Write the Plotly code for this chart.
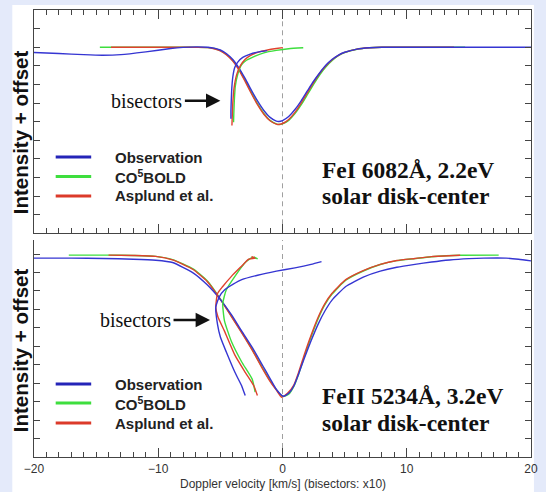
import plotly.graph_objects as go

# ---------------- data ----------------
# Upper panel: FeI 6082 A  (x = Doppler velocity km/s, y = normalised intensity)
fe1_obs_v = [-20, -18, -16, -14.5, -13, -11, -9, -8, -7, -6, -5.5, -5, -4.5, -4, -3.5, -3, -2.5, -2, -1.5, -1,
             -0.5, -0.3, 0, 0.5, 1, 1.5, 2, 2.5, 3, 3.5, 4, 4.5, 5, 6, 7, 8, 10, 14, 20]
fe1_obs_i = [0.972, 0.966, 0.960, 0.957, 0.960, 0.975, 0.993, 0.999, 1.002, 1.000, 0.995, 0.985, 0.965, 0.934, 0.888,
             0.831, 0.768, 0.710, 0.660, 0.623, 0.603, 0.601, 0.606, 0.628, 0.665, 0.712, 0.765, 0.817, 0.863, 0.904,
             0.935, 0.958, 0.973, 0.990, 0.997, 1.0, 1.0, 1.0, 1.0]
fe1_co5_v = [-14.7, -10, -8, -7, -6, -5.5, -5, -4.5, -4, -3.5, -3, -2.5, -2, -1.5, -1, -0.5, -0.25, 0, 0.5, 1,
             1.5, 2, 2.5, 3, 3.5, 4, 4.5, 5, 6, 7, 8, 10, 14.7]
fe1_co5_i = [1.0, 1.0, 1.0, 0.999, 0.998, 0.993, 0.982, 0.961, 0.929, 0.882, 0.821, 0.756, 0.695, 0.644, 0.607,
             0.588, 0.585, 0.588, 0.607, 0.643, 0.690, 0.745, 0.800, 0.852, 0.895, 0.929, 0.954, 0.971, 0.989,
             0.997, 1.0, 1.0, 1.0]
fe1_asp_v = [-13.8, -10, -8, -7, -6, -5.5, -5, -4.5, -4, -3.5, -3, -2.5, -2, -1.5, -1, -0.5, -0.4, 0, 0.5, 1,
             1.5, 2, 2.5, 3, 3.5, 4, 4.5, 5, 6, 7, 8, 10, 13.8]
fe1_asp_i = [1.0, 1.0, 1.0, 0.999, 0.998, 0.992, 0.980, 0.958, 0.925, 0.877, 0.815, 0.750, 0.690, 0.640, 0.605,
             0.587, 0.585, 0.590, 0.612, 0.650, 0.700, 0.755, 0.810, 0.860, 0.900, 0.933, 0.956, 0.972, 0.990,
             0.997, 1.0, 1.0, 1.0]
# bisectors (velocity x10)
fe1_bis_obs_v = [-4.15, -4.15, -4.12, -4.08, -4.0, -3.85, -3.6, -3.2, -2.6, -1.9, -1.24]
fe1_bis_obs_i = [0.615, 0.66, 0.72, 0.78, 0.84, 0.89, 0.92, 0.945, 0.963, 0.975, 0.982]
fe1_bis_co5_v = [-3.94, -3.92, -3.88, -3.8, -3.6, -3.3, -2.9, -2.3, -1.5, -0.5, 0.5, 1.67]
fe1_bis_co5_i = [0.597, 0.64, 0.71, 0.79, 0.855, 0.905, 0.93, 0.95, 0.97, 0.983, 0.992, 0.997]
fe1_bis_asp_v = [-4.07, -4.05, -4.0, -3.9, -3.7, -3.4, -3.0, -2.6, -2.0, -1.2, -0.5, 0.03]
fe1_bis_asp_i = [0.579, 0.62, 0.70, 0.78, 0.85, 0.90, 0.935, 0.955, 0.972, 0.985, 0.993, 0.998]

# Lower panel: FeII 5234 A
fe2_obs_v = [-20, -17, -14.4, -12, -10.2, -8.85, -7.2, -6.06, -4.95, -4.1, -3.28, -2.4, -1.6, -1.0, -0.49, 0.07,
             0.5, 0.91, 1.3, 1.74, 2.3, 2.86, 3.4, 3.97, 5.09, 6.5, 7.87, 9.2, 10.66, 12, 13.45, 15, 16.2, 18, 19, 20]
fe2_obs_i = [0.978, 0.978, 0.976, 0.972, 0.966, 0.954, 0.898, 0.833, 0.749, 0.67, 0.582, 0.49, 0.396, 0.325, 0.266,
             0.229, 0.245, 0.285, 0.35, 0.433, 0.53, 0.619, 0.69, 0.749, 0.824, 0.875, 0.907, 0.928, 0.944, 0.957,
             0.968, 0.975, 0.978, 0.978, 0.972, 0.963]
fe2_co5_v = [-17.2, -14, -12, -10.2, -8.85, -7.2, -6.06, -4.95, -4.1, -3.28, -2.4, -1.6, -1.0, -0.49, 0.0, 0.5,
             0.91, 1.3, 1.74, 2.3, 2.86, 3.4, 3.97, 5.09, 6.5, 7.87, 9.2, 10.66, 12, 14.3, 17.4]
fe2_co5_i = [0.994, 0.994, 0.992, 0.987, 0.97, 0.92, 0.855, 0.752, 0.662, 0.575, 0.478, 0.382, 0.314, 0.265, 0.228,
             0.240, 0.282, 0.35, 0.44, 0.55, 0.648, 0.724, 0.781, 0.858, 0.908, 0.943, 0.964, 0.975, 0.985, 0.993,
             0.994]
fe2_asp_v = [-14, -12, -10.2, -8.85, -7.2, -6.06, -4.95, -4.1, -3.28, -2.4, -1.6, -1.0, -0.49, -0.07, 0.4, 0.91,
             1.3, 1.74, 2.3, 2.86, 3.4, 3.97, 5.09, 6.5, 7.87, 9.2, 10.66, 12, 14.3]
fe2_asp_i = [0.994, 0.992, 0.987, 0.968, 0.916, 0.851, 0.749, 0.66, 0.573, 0.475, 0.378, 0.31, 0.262, 0.224, 0.245,
             0.29, 0.36, 0.452, 0.56, 0.656, 0.73, 0.786, 0.861, 0.91, 0.944, 0.965, 0.976, 0.986, 0.993]
fe2_bis_obs_v = [-3.0, -3.15, -3.28, -3.83, -4.53, -5.0, -5.23, -5.37, -5.09, -4.67, -4.0, -3.28, -2.0, -0.49, 1.0,
                 2.3, 3.14]
fe2_bis_obs_i = [0.233, 0.26, 0.285, 0.359, 0.47, 0.55, 0.619, 0.712, 0.768, 0.805, 0.835, 0.861, 0.885, 0.907,
                 0.925, 0.944, 0.959]
fe2_bis_co5_v = [-2.2, -2.44, -3.28, -4.11, -4.67, -4.81, -4.53, -3.83, -3.0, -2.44, -2.02, -2.3]
fe2_bis_co5_i = [0.251, 0.322, 0.415, 0.526, 0.638, 0.731, 0.805, 0.879, 0.954, 0.981, 0.975, 0.985]
fe2_bis_asp_v = [-2.02, -2.3, -3.0, -3.83, -4.67, -5.2, -5.37, -5.23, -4.81, -4.11, -3.28, -2.72, -2.2, -2.5]
fe2_bis_asp_i = [0.233, 0.285, 0.359, 0.452, 0.582, 0.66, 0.712, 0.786, 0.824, 0.879, 0.935, 0.972, 0.978, 0.985]

x_tickvals = [-20, -10, 0, 10, 20]
x_ticktext = ["\u221220", "\u221210", "0", "10", "20"]
top_ytick = [0.1, 0.2, 0.3, 0.4, 0.5, 0.6, 0.7, 0.8, 0.9, 1.0, 1.1]
bot_ytick = [0.0, 0.1, 0.2, 0.3, 0.4, 0.5, 0.6, 0.7, 0.8, 0.9, 1.0]
legend_names = ["Observation", "CO<sup>5</sup>BOLD", "Asplund et al."]

# ---------------- layout helpers ----------------
W, H = 546, 492
ML, MR, MT, MB = 34, 8, 10, 35
PW, PH = W - ML - MR, H - MT - MB


def px(x):
    return (x - ML) / PW


def py(y):
    return (H - MB - y) / PH


BLUE = "#3535d2"
GREEN = "#3ede3e"
RED = "#e0412e"
LEG_COLORS = ["#2424b8", "#3ede3e", "#dc3a2a"]
FRAME = "#444444"
SANS = "Liberation Sans, Arial, sans-serif"
SERIF = "Liberation Serif, Times New Roman, serif"

fig = go.Figure()


def add(v, i, color, ax, width=1.4):
    fig.add_trace(go.Scatter(x=v, y=i, mode="lines", xaxis="x" + ax, yaxis="y" + ax,
                             line=dict(color=color, width=width, shape="spline", smoothing=0.5),
                             showlegend=False, hoverinfo="skip"))


for ax, sets in [("", [(fe1_co5_v, fe1_co5_i, GREEN), (fe1_asp_v, fe1_asp_i, RED), (fe1_obs_v, fe1_obs_i, BLUE),
                       (fe1_bis_co5_v, fe1_bis_co5_i, GREEN), (fe1_bis_asp_v, fe1_bis_asp_i, RED),
                       (fe1_bis_obs_v, fe1_bis_obs_i, BLUE)]),
                 ("2", [(fe2_co5_v, fe2_co5_i, GREEN), (fe2_asp_v, fe2_asp_i, RED), (fe2_obs_v, fe2_obs_i, BLUE),
                        (fe2_bis_co5_v, fe2_bis_co5_i, GREEN), (fe2_bis_asp_v, fe2_bis_asp_i, RED),
                        (fe2_bis_obs_v, fe2_bis_obs_i, BLUE)])]:
    for v, i, c in sets:
        add(v, i, c, ax)

xcommon = dict(range=[-20, 20], showgrid=False, zeroline=False, showline=True, linecolor=FRAME, linewidth=1.2,
               ticks="inside", ticklen=9, tickcolor=FRAME, tickwidth=1, tickvals=x_tickvals,
               minor=dict(dtick=1, ticklen=5, ticks="inside", tickcolor=FRAME, tickwidth=1))
ycommon = dict(showgrid=False, zeroline=False, showline=True, linecolor=FRAME, linewidth=1.2, ticks="inside",
               ticklen=6, tickcolor=FRAME, tickwidth=1, showticklabels=False, mirror="ticks")

fig.update_layout(
    width=W, height=H, margin=dict(l=ML, r=MR, t=MT, b=MB),
    paper_bgcolor="#e4eafa", plot_bgcolor="white",
    xaxis=dict(**xcommon, anchor="y", showticklabels=False, mirror="ticks"),
    yaxis=dict(**ycommon, domain=[py(233.3), 1], range=[0, 1.2], tickvals=top_ytick, anchor="x"),
    xaxis2=dict(**xcommon, anchor="y2", showticklabels=True, ticktext=x_ticktext, mirror=False,
                tickfont=dict(family=SANS, size=12, color="#333")),
    yaxis2=dict(**ycommon, domain=[0, py(240)], range=[-0.1, 1.076], tickvals=bot_ytick, anchor="x2"),
)

shapes = [dict(type="rect", xref="paper", yref="paper", x0=px(12), x1=px(541), y0=py(497), y1=py(5),
               fillcolor="white", line=dict(width=0), layer="below")]
for ax in ["", "2"]:
    shapes.append(dict(type="line", xref="x" + ax, yref="y" + ax + " domain", x0=0, x1=0, y0=0, y1=1,
                       line=dict(color="#a0a0a0", width=1, dash="5px,4px"), layer="below"))

annotations = []
for ys, label1, label2, lab_y, bis_y, bis_txt_c, bis_head in [
        ([157, 176.5, 196], "FeI 6082\u00c5, 2.2eV", "solar disk-center", (170, 196), 100.7, 149.5, 223),
        ([384, 403, 423], "FeII 5234\u00c5, 3.2eV", "solar disk-center", (396, 423), 320, 138, 212.5)]:
    for y, name, col in zip(ys, legend_names, LEG_COLORS):
        shapes.append(dict(type="line", xref="paper", yref="paper", x0=px(56), x1=px(92), y0=py(y), y1=py(y),
                           line=dict(color=col, width=3)))
        annotations.append(dict(xref="paper", yref="paper", x=px(114), y=py(y), text="<b>" + name + "</b>",
                                showarrow=False, xanchor="left", yanchor="middle",
                                font=dict(family=SANS, size=15, color="#222")))
    annotations.append(dict(xref="paper", yref="paper", x=px(324), y=py(lab_y[0]), text="<b>" + label1 + "</b>",
                            showarrow=False, xanchor="left", yanchor="middle",
                            font=dict(family=SERIF, size=23.5, color="#111")))
    annotations.append(dict(xref="paper", yref="paper", x=px(324), y=py(lab_y[1]), text="<b>" + label2 + "</b>",
                            showarrow=False, xanchor="left", yanchor="middle",
                            font=dict(family=SERIF, size=23.5, color="#111")))
    # "bisectors" text with arrow pointing at the bisector curves
    annotations.append(dict(xref="paper", yref="paper", x=px(bis_head), y=py(bis_y), text="bisectors",
                            showarrow=True, ax=bis_txt_c - bis_head, ay=0, arrowhead=2, arrowsize=1.2,
                            arrowwidth=2.4, arrowcolor="#111", standoff=0, borderpad=2,
                            font=dict(family=SERIF, size=20, color="#111")))

for yc in [132, 350]:
    annotations.append(dict(xref="paper", yref="paper", x=px(20), y=py(yc), text="<b>Intensity + offset</b>",
                            textangle=-90, showarrow=False, xanchor="center", yanchor="middle",
                            font=dict(family=SANS, size=20.5, color="#111")))

annotations.append(dict(xref="paper", yref="paper", x=px(286), y=py(484),
                        text="Doppler velocity [km/s] (bisectors: x10)", showarrow=False,
                        xanchor="center", yanchor="middle", font=dict(family=SANS, size=12, color="#333")))

fig.update_layout(shapes=shapes, annotations=annotations)
fig.write_html("out.html", config={"displayModeBar": False},
               post_script="document.body.style.margin='0';document.body.style.overflow='hidden';")
